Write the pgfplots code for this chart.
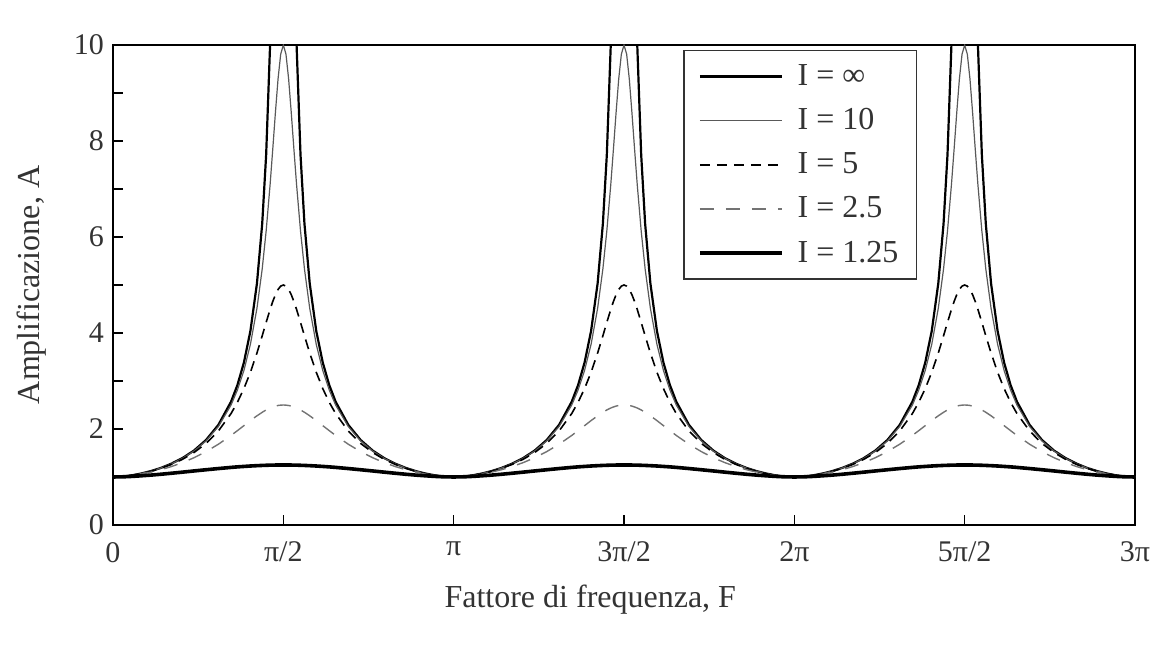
\documentclass[border=0pt]{standalone}
\usepackage{fontspec}
\setmainfont{Liberation Serif}
\usepackage{pgfplots}
\usepackage{pgfplotstable}
\pgfplotsset{compat=1.18}

\pgfplotstableread{
F      Ainf   A10    A5     A25    A125
0      1      1      1      1      1
0.1075 1.015  1.015  1.014  1.012  1.005
0.1807 1.038  1.037  1.036  1.032  1.013
0.2609 1.073  1.072  1.070  1.060  1.025
0.3475 1.122  1.121  1.116  1.100  1.039
0.4400 1.188  1.186  1.179  1.151  1.057
0.5378 1.277  1.273  1.261  1.217  1.078
0.6405 1.394  1.387  1.368  1.299  1.101
0.7474 1.552  1.541  1.510  1.402  1.126
0.8581 1.771  1.752  1.700  1.529  1.151
0.9719 2.086  2.052  1.959  1.683  1.176
1.0885 2.568  2.499  2.321  1.865  1.200
1.1476 2.916  2.813  2.558  1.966  1.211
1.2072 3.384  3.220  2.842  2.070  1.220
1.2672 4.042  3.764  3.182  2.175  1.229
1.3275 5.033  4.514  3.583  2.275  1.236
1.3760 6.277  5.335  3.942  2.348  1.241
1.4124 7.714  6.127  4.221  2.397  1.244
1.4489 10.02  7.095  4.492  2.437  1.247
1.4732 12.51  7.827  4.656  2.459  1.248
1.4976 16.68  8.588  4.797  2.477  1.249
1.5220 25.00  9.292  4.907  2.490  1.249
1.5464 50.00  9.808  4.976  2.497  1.250
1.5708 inf    10     5      2.5    1.25
1.5952 50.00  9.808  4.976  2.497  1.250
1.6196 25.00  9.292  4.907  2.490  1.249
1.6440 16.68  8.588  4.797  2.477  1.249
1.6684 12.51  7.827  4.656  2.459  1.248
1.6927 10.02  7.095  4.492  2.437  1.247
1.7292 7.714  6.127  4.221  2.397  1.244
1.7656 6.277  5.335  3.942  2.348  1.241
1.8141 5.033  4.514  3.583  2.275  1.236
1.8744 4.042  3.764  3.182  2.175  1.229
1.9344 3.384  3.220  2.842  2.070  1.220
1.9940 2.916  2.813  2.558  1.966  1.211
2.0531 2.568  2.499  2.321  1.865  1.200
2.1697 2.086  2.052  1.959  1.683  1.176
2.2835 1.771  1.752  1.700  1.529  1.151
2.3942 1.552  1.541  1.510  1.402  1.126
2.5011 1.394  1.387  1.368  1.299  1.101
2.6038 1.277  1.273  1.261  1.217  1.078
2.7016 1.188  1.186  1.179  1.151  1.057
2.7941 1.122  1.121  1.116  1.100  1.039
2.8807 1.073  1.072  1.070  1.060  1.025
2.9609 1.038  1.037  1.036  1.032  1.013
3.0341 1.015  1.015  1.014  1.012  1.005
3.1416 1      1      1      1      1
3.2491 1.015  1.015  1.014  1.012  1.005
3.3223 1.038  1.037  1.036  1.032  1.013
3.4025 1.073  1.072  1.070  1.060  1.025
3.4891 1.122  1.121  1.116  1.100  1.039
3.5816 1.188  1.186  1.179  1.151  1.057
3.6794 1.277  1.273  1.261  1.217  1.078
3.7821 1.394  1.387  1.368  1.299  1.101
3.8890 1.552  1.541  1.510  1.402  1.126
3.9997 1.771  1.752  1.700  1.529  1.151
4.1135 2.086  2.052  1.959  1.683  1.176
4.2301 2.568  2.499  2.321  1.865  1.200
4.2892 2.916  2.813  2.558  1.966  1.211
4.3488 3.384  3.220  2.842  2.070  1.220
4.4088 4.042  3.764  3.182  2.175  1.229
4.4691 5.033  4.514  3.583  2.275  1.236
4.5176 6.277  5.335  3.942  2.348  1.241
4.5540 7.714  6.127  4.221  2.397  1.244
4.5905 10.02  7.095  4.492  2.437  1.247
4.6148 12.51  7.827  4.656  2.459  1.248
4.6392 16.68  8.588  4.797  2.477  1.249
4.6636 25.00  9.292  4.907  2.490  1.249
4.6880 50.00  9.808  4.976  2.497  1.250
4.7124 inf    10     5      2.5    1.25
4.7368 50.00  9.808  4.976  2.497  1.250
4.7612 25.00  9.292  4.907  2.490  1.249
4.7856 16.68  8.588  4.797  2.477  1.249
4.8100 12.51  7.827  4.656  2.459  1.248
4.8343 10.02  7.095  4.492  2.437  1.247
4.8708 7.714  6.127  4.221  2.397  1.244
4.9072 6.277  5.335  3.942  2.348  1.241
4.9557 5.033  4.514  3.583  2.275  1.236
5.0160 4.042  3.764  3.182  2.175  1.229
5.0760 3.384  3.220  2.842  2.070  1.220
5.1356 2.916  2.813  2.558  1.966  1.211
5.1947 2.568  2.499  2.321  1.865  1.200
5.3113 2.086  2.052  1.959  1.683  1.176
5.4251 1.771  1.752  1.700  1.529  1.151
5.5358 1.552  1.541  1.510  1.402  1.126
5.6427 1.394  1.387  1.368  1.299  1.101
5.7454 1.277  1.273  1.261  1.217  1.078
5.8432 1.188  1.186  1.179  1.151  1.057
5.9357 1.122  1.121  1.116  1.100  1.039
6.0223 1.073  1.072  1.070  1.060  1.025
6.1025 1.038  1.037  1.036  1.032  1.013
6.1757 1.015  1.015  1.014  1.012  1.005
6.2832 1      1      1      1      1
6.3907 1.015  1.015  1.014  1.012  1.005
6.4639 1.038  1.037  1.036  1.032  1.013
6.5441 1.073  1.072  1.070  1.060  1.025
6.6307 1.122  1.121  1.116  1.100  1.039
6.7232 1.188  1.186  1.179  1.151  1.057
6.8210 1.277  1.273  1.261  1.217  1.078
6.9237 1.394  1.387  1.368  1.299  1.101
7.0306 1.552  1.541  1.510  1.402  1.126
7.1413 1.771  1.752  1.700  1.529  1.151
7.2551 2.086  2.052  1.959  1.683  1.176
7.3717 2.568  2.499  2.321  1.865  1.200
7.4308 2.916  2.813  2.558  1.966  1.211
7.4904 3.384  3.220  2.842  2.070  1.220
7.5504 4.042  3.764  3.182  2.175  1.229
7.6107 5.033  4.514  3.583  2.275  1.236
7.6592 6.277  5.335  3.942  2.348  1.241
7.6956 7.714  6.127  4.221  2.397  1.244
7.7321 10.02  7.095  4.492  2.437  1.247
7.7564 12.51  7.827  4.656  2.459  1.248
7.7808 16.68  8.588  4.797  2.477  1.249
7.8052 25.00  9.292  4.907  2.490  1.249
7.8296 50.00  9.808  4.976  2.497  1.250
7.8540 inf    10     5      2.5    1.25
7.8784 50.00  9.808  4.976  2.497  1.250
7.9028 25.00  9.292  4.907  2.490  1.249
7.9272 16.68  8.588  4.797  2.477  1.249
7.9516 12.51  7.827  4.656  2.459  1.248
7.9759 10.02  7.095  4.492  2.437  1.247
8.0124 7.714  6.127  4.221  2.397  1.244
8.0488 6.277  5.335  3.942  2.348  1.241
8.0973 5.033  4.514  3.583  2.275  1.236
8.1576 4.042  3.764  3.182  2.175  1.229
8.2176 3.384  3.220  2.842  2.070  1.220
8.2772 2.916  2.813  2.558  1.966  1.211
8.3363 2.568  2.499  2.321  1.865  1.200
8.4529 2.086  2.052  1.959  1.683  1.176
8.5667 1.771  1.752  1.700  1.529  1.151
8.6774 1.552  1.541  1.510  1.402  1.126
8.7843 1.394  1.387  1.368  1.299  1.101
8.8870 1.277  1.273  1.261  1.217  1.078
8.9848 1.188  1.186  1.179  1.151  1.057
9.0773 1.122  1.121  1.116  1.100  1.039
9.1639 1.073  1.072  1.070  1.060  1.025
9.2441 1.038  1.037  1.036  1.032  1.013
9.3173 1.015  1.015  1.014  1.012  1.005
9.4248 1      1      1      1      1
}\ampdata

\begin{document}
\begin{tikzpicture}
\path[use as bounding box] (-56.5pt,-63.5pt) rectangle (529.5pt,262.5pt);
\begin{axis}[
  at={(0pt,0pt)}, anchor=south west,
  scale only axis, width=511pt, height=240pt,
  xmin=0, xmax=9.4248, ymin=0, ymax=10,
  xtick={0,1.5708,3.1416,4.7124,6.2832,7.8540,9.4248},
  xticklabels={0,π/2,π,3π/2,2π,5π/2,3π},
  ytick={0,2,4,6,8,10},
  minor ytick={1,3,5,7,9},
  tick align=inside,
  xtick pos=bottom, ytick pos=left,
  major tick length=5pt, minor tick length=5pt,
  every tick/.style={black, line width=0.7pt},
  every minor tick/.style={black, line width=0.7pt},
  axis line style={line width=0.9pt},
  /pgf/number format/assume math mode=true,
  tick label style={font=\fontsize{15}{18}\selectfont, text=black!80},
  xticklabel style={yshift=-5pt},
  yticklabel style={xshift=-1pt},
  xlabel={Fattore di frequenza, F},
  ylabel={Amplificazione, A},
  label style={font=\fontsize{16}{19}\selectfont, text=black!80},
  xlabel style={at={(axis description cs:0.467,-0.156)}, anchor=center},
  ylabel style={at={(axis description cs:-0.080,0.5)}, anchor=center},
  unbounded coords=jump,
  legend style={at={(0.558,0.99)}, anchor=north west, draw=black!80,
    line width=0.8pt, font=\fontsize{16}{19}\selectfont,
    inner xsep=7pt, inner ysep=5pt, row sep=6pt,
    text=black!80,
    /tikz/every odd column/.append style={column sep=5pt}},
  legend cell align=left,
  legend image code/.code={\draw[#1] (0pt,0pt) -- (41pt,0pt);},
]
\addplot[black, line width=1.1pt] table[x=F, y=Ainf] {\ampdata};
\addlegendentry{I = ∞}
\addplot[black!65, line width=0.6pt] table[x=F, y=A10] {\ampdata};
\addlegendentry{I = 10}
\addplot[black, line width=0.8pt, dash pattern=on 5pt off 3.5pt] table[x=F, y=A5] {\ampdata};
\addlegendentry{I = 5}
\addplot[black!55, line width=0.7pt, dash pattern=on 7pt off 6pt] table[x=F, y=A25] {\ampdata};
\addlegendentry{I = 2.5}
\addplot[black, line width=1.8pt] table[x=F, y=A125] {\ampdata};
\addlegendentry{I = 1.25}
\end{axis}
\end{tikzpicture}
\end{document}
